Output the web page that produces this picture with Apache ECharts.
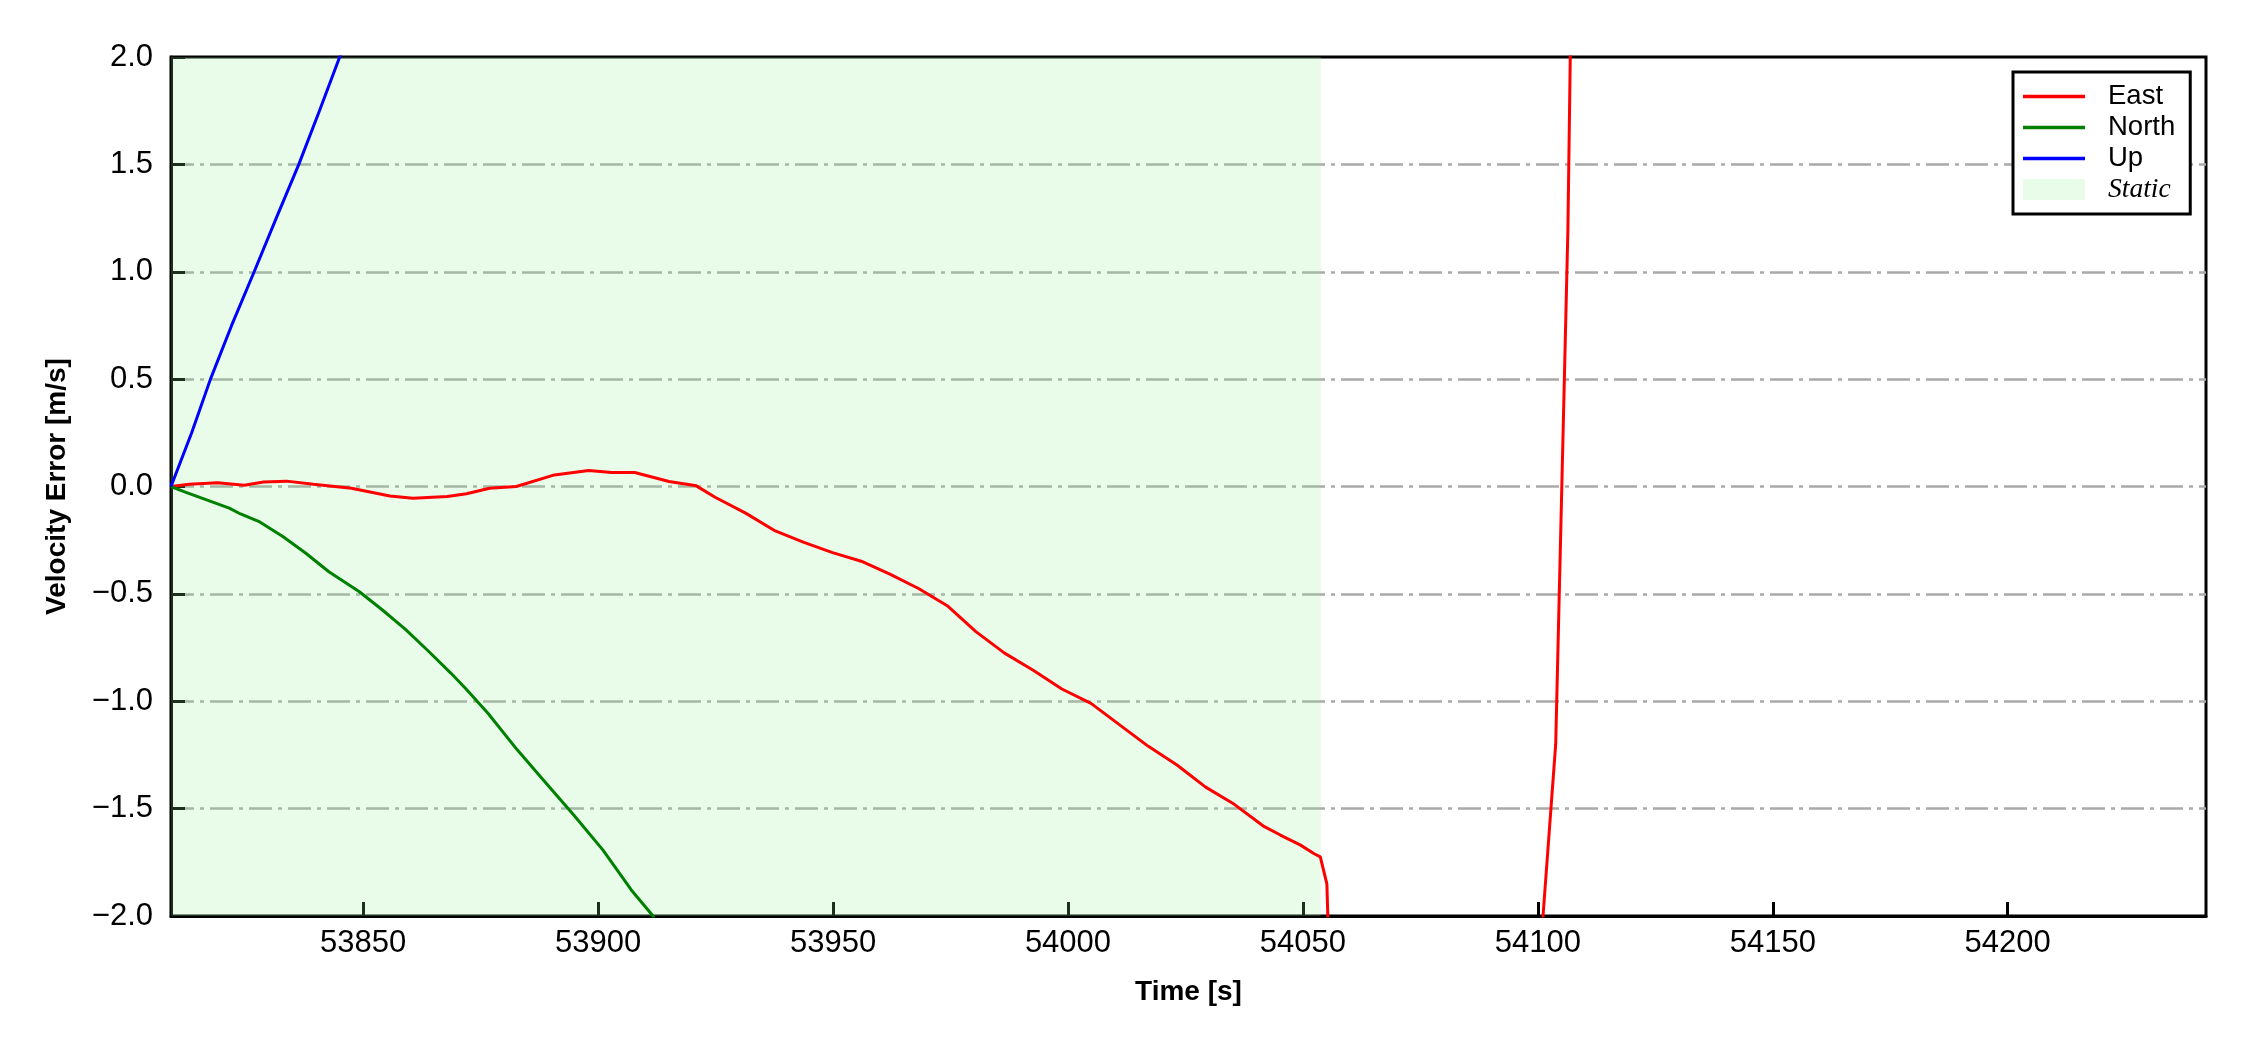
<!DOCTYPE html>
<html>
<head>
<meta charset="utf-8">
<script src="https://cdn.jsdelivr.net/npm/echarts@6/dist/echarts.min.js"></script>
<style>
html,body{margin:0;padding:0;background:#fff;}
#chart{width:2250px;height:1050px;}
</style>
</head>
<body>
<div id="chart"></div>
<script>
// ---- data ----
var xMin = 53809.1, xMax = 54242.2;
var yTicks = [-2.0, -1.5, -1.0, -0.5, 0.0, 0.5, 1.0, 1.5, 2.0];
var staticStart = 53809.1, staticEnd = 54053.8;

var tEast = [53809.1, 53813, 53819, 53824.7, 53828.8, 53833.7, 53839.4, 53847.5, 53855.7, 53860.6,
  53867.9, 53872, 53876.9, 53882.6, 53890.7, 53898, 53902.9, 53907.8, 53915.1, 53920.9,
  53924.9, 53931.4, 53937.7, 53943.8, 53949.9, 53956, 53962.1, 53968.2, 53974.3, 53980.4,
  53986.5, 53992.6, 53998.7, 54004.9, 54011, 54017.1, 54023.2, 54029.3, 54035.4, 54041.5,
  54045.2, 54049.5, 54052.4, 54053.7, 54055.1, 54055.3, 54055.4, 54100.1, 54101.1, 54103.8,
  54106.4, 54106.9, 54107.2];
var vEast = [0, 0.01, 0.018, 0.006, 0.021, 0.025, 0.011, -0.008, -0.044, -0.055,
  -0.047, -0.034, -0.008, 0, 0.054, 0.074, 0.065, 0.065, 0.023, 0.003,
  -0.05, -0.124, -0.207, -0.26, -0.308, -0.348, -0.408, -0.475, -0.555, -0.676,
  -0.776, -0.856, -0.943, -1.01, -1.11, -1.21, -1.297, -1.4, -1.48, -1.58,
  -1.623, -1.67, -1.71, -1.725, -1.85, -2.0, -2.3, -2.3, -2.0, -1.2,
  1.2, 2.0, 2.3];

var tNorth = [53809.1, 53812, 53815.8, 53821.5, 53823.9, 53828, 53832.9, 53837.8, 53842.7, 53849.2,
  53854.1, 53859, 53863.8, 53868.7, 53872, 53876.6, 53882.7, 53888.8, 53894.9, 53901,
  53907.1, 53911.7, 53913];
var vNorth = [0, -0.025, -0.055, -0.101, -0.128, -0.165, -0.233, -0.311, -0.397, -0.49,
  -0.575, -0.665, -0.765, -0.87, -0.945, -1.057, -1.224, -1.378, -1.532, -1.692,
  -1.88, -2.0, -2.08];

var tUp = [53809.1, 53813.5, 53817.5, 53822, 53826.8, 53831.5, 53836.3, 53840.7, 53845, 53846];
var vUp = [0, 0.25, 0.5, 0.75, 1.0, 1.25, 1.5, 1.75, 2.0, 2.06];

var seriesNames = ['East', 'North', 'Up', 'Static'];
var seriesColors = ['#ff0000', '#008000', '#0000ff'];
var staticColor = 'rgba(144,238,144,0.2)';

function zip(a, b) { return a.map(function (v, i) { return [v, b[i]]; }); }

var FONT = '"Liberation Sans", Arial, sans-serif';
var LINE_ICON = 'path://M0,0H62V3.5H0Z';

var chart = echarts.init(document.getElementById('chart'), null, {renderer: 'canvas'});
var option = {
  animation: false,
  backgroundColor: '#ffffff',
  grid: {
    left: 171, top: 57, right: 44, bottom: 134,
    show: true, borderColor: '#000', borderWidth: 3, backgroundColor: 'transparent'
  },
  legend: {
    orient: 'vertical',
    left: 2013, top: 72,
    padding: [9, 15, 9, 10],
    itemWidth: 62, itemHeight: 21, itemGap: 0,
    borderColor: '#000', borderWidth: 3, borderRadius: 0,
    backgroundColor: '#fff',
    selectedMode: false,
    symbolKeepAspect: true,
    textStyle: {fontFamily: FONT, fontSize: 27.5, color: '#000', lineHeight: 31, padding: [0, 0, 0, 18]},
    data: [
      {name: 'East', icon: LINE_ICON, itemStyle: {color: seriesColors[0]}},
      {name: 'North', icon: LINE_ICON, itemStyle: {color: seriesColors[1]}},
      {name: 'Up', icon: LINE_ICON, itemStyle: {color: seriesColors[2]}},
      {name: 'Static', icon: 'rect', itemStyle: {color: staticColor},
       textStyle: {fontFamily: '"Liberation Serif", "Times New Roman", serif', fontStyle: 'italic', fontSize: 27.5}}
    ]
  },
  xAxis: {
    type: 'value', min: xMin, max: xMax, splitNumber: 9,
    name: 'Time [s]', nameLocation: 'middle', nameGap: 62,
    nameTextStyle: {fontFamily: FONT, fontSize: 28, fontWeight: 'bold', color: '#000'},
    axisLine: {show: true, onZero: false, lineStyle: {color: '#000', width: 3}},
    axisTick: {show: true, inside: true, length: 14, lineStyle: {color: '#000', width: 3}},
    axisLabel: {
      fontFamily: FONT, fontSize: 31, color: '#000', margin: 12,
      showMinLabel: false, showMaxLabel: false,
      formatter: function (v) { return (Math.abs(v % 50) < 1e-6) ? String(v) : ''; }
    },
    splitLine: {show: false}
  },
  yAxis: {
    type: 'value', min: yTicks[0], max: yTicks[yTicks.length - 1], interval: 0.5,
    name: 'Velocity Error [m/s]', nameLocation: 'middle', nameGap: 100,
    nameTextStyle: {fontFamily: FONT, fontSize: 28, fontWeight: 'bold', color: '#000'},
    axisLine: {show: true, onZero: false, lineStyle: {color: '#000', width: 3}},
    axisTick: {show: true, inside: true, length: 14, lineStyle: {color: '#000', width: 3}},
    axisLabel: {
      fontFamily: FONT, fontSize: 31, color: '#000', margin: 18,
      formatter: function (v) { return v.toFixed(1).replace('-', '\u2212'); }
    },
    splitLine: {show: true, showMinLine: false, showMaxLine: false,
      lineStyle: {color: '#a9a9a9', width: 2.5, type: [23, 6, 4, 6]}}
  },
  series: [
    {name: seriesNames[0], type: 'line', data: zip(tEast, vEast), symbol: 'none', clip: true, z: 3,
     color: seriesColors[0], lineStyle: {width: 3, color: seriesColors[0]}},
    {name: seriesNames[1], type: 'line', data: zip(tNorth, vNorth), symbol: 'none', clip: true, z: 3,
     color: seriesColors[1], lineStyle: {width: 3, color: seriesColors[1]}},
    {name: seriesNames[2], type: 'line', data: zip(tUp, vUp), symbol: 'none', clip: true, z: 3,
     color: seriesColors[2], lineStyle: {width: 3, color: seriesColors[2]}},
    {name: seriesNames[3], type: 'line', data: [], symbol: 'none', z: 1, color: staticColor,
     markArea: {silent: true, itemStyle: {color: staticColor},
       data: [[{xAxis: staticStart}, {xAxis: staticEnd}]]}}
  ]
};
chart.setOption(option);
</script>
</body>
</html>
